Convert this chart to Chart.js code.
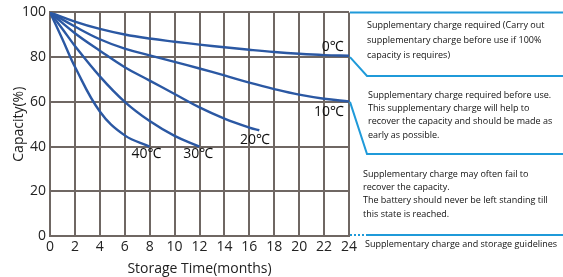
<!DOCTYPE html>
<html>
<head>
<meta charset="utf-8">
<script src="https://cdn.jsdelivr.net/npm/chart.js@4.4.1/dist/chart.umd.min.js"></script>
<style>
  html,body{margin:0;padding:0;background:#fff;}
  #wrap{width:563px;height:277px;position:relative;}
</style>
</head>
<body>
<div id="wrap"><canvas id="c" width="563" height="277"></canvas></div>
<script>
// storage curves
const months0 = [0,2,4,6,8,10,12,14,16,18,20,22,24];
const cap0  = [100,95.9,92.6,90.1,88.3,86.9,85.6,84.4,83.3,82.3,81.5,80.9,80.6];
const months10 = [0,2,4,6,8,10,12,14,16,18,20,22,24];
const cap10 = [100,93.7,88,83.8,80.8,77.9,74.9,71.8,68.6,65.7,63.2,61.4,60.2];
const months20 = [0,2,4,6,8,10,12,14,16,16.8];
const cap20 = [100,90.7,82.9,75.5,69.5,63.5,57.5,52.5,48.5,47.3];
const months30 = [0,1,2,4,6,8,10,12];
const cap30 = [100,92.6,85,71.4,60,51.4,44.8,40];
const months40 = [0,1,2,4,6,8];
const cap40 = [100,88,75.7,55.7,45,40];

const seriesLabels = ['0℃','10℃','20℃','30℃','40℃'];
// where each temperature label sits (data coords)
const labelX = [22.7,22.4,16.45,11.9,7.75];
const labelY = [84.5,55.4,42.9,36.6,36.6];

const xTicks = [0,2,4,6,8,10,12,14,16,18,20,22,24];
const yTicks = [0,20,40,60,80,100];

const notes = [
  ['Supplementary charge required (Carry out','supplementary charge before use if 100%','capacity is requires)'],
  ['Supplementary charge required before use.','This supplementary charge will help to','recover the capacity and should be made as','early as possible.'],
  ['Supplementary charge may often fail to','recover the capacity.','The battery should never be left standing till','this state is reached.'],
  ['Supplementary charge and storage guidelines']
];

const FONT = "'Open Sans', 'Noto Sans', sans-serif";
const LINE = '#2b58a3';
const GRID = '#6f6763';
const NOTE_BLUE = '#1f9ad9';

function pts(xs, ys){ return xs.map((x,i)=>({x:x, y:ys[i]})); }
const allSeries = [[months0,cap0],[months10,cap10],[months20,cap20],[months30,cap30],[months40,cap40]];

const datasets = allSeries.map((s,i)=>({
  label: seriesLabels[i],
  data: pts(s[0], s[1]),
  borderColor: LINE,
  borderWidth: 2.4,
  pointRadius: 0,
  fill: false,
  tension: 0.4
}));

const annotate = {
  id: 'annotate',
  afterDatasetsDraw(chart){
    const ctx = chart.ctx, xs = chart.scales.x, ys = chart.scales.y;
    // temperature labels
    ctx.save();
    ctx.fillStyle = '#111';
    ctx.font = '14px ' + FONT;
    ctx.textAlign = 'center'; ctx.textBaseline = 'middle';
    seriesLabels.forEach((t,i)=>ctx.fillText(t, xs.getPixelForValue(labelX[i]), ys.getPixelForValue(labelY[i])));
    ctx.restore();

    // guideline bands on the right
    const x0 = xs.getPixelForValue(24) + 1;
    const x1 = x0 + 17;
    const W = chart.width;
    const y100 = ys.getPixelForValue(100), y80 = ys.getPixelForValue(80), y60 = ys.getPixelForValue(60), y0 = ys.getPixelForValue(0);
    ctx.save();
    ctx.strokeStyle = NOTE_BLUE; ctx.lineWidth = 2;
    ctx.beginPath(); ctx.moveTo(x0, y100); ctx.lineTo(W, y100); ctx.stroke();
    ctx.beginPath(); ctx.moveTo(x0, y80); ctx.lineTo(x1, 76); ctx.lineTo(W, 76); ctx.stroke();
    ctx.beginPath(); ctx.moveTo(x0, y60); ctx.lineTo(x1, 154); ctx.lineTo(W, 154); ctx.stroke();
    ctx.beginPath(); ctx.moveTo(x1, y0 - 1); ctx.lineTo(W, y0 - 1); ctx.stroke();
    ctx.setLineDash([2,2]);
    ctx.beginPath(); ctx.moveTo(x0, y0 - 1); ctx.lineTo(x1, y0 - 1); ctx.stroke();
    ctx.restore();

    ctx.save();
    ctx.fillStyle = '#111';
    ctx.font = '9px ' + FONT;
    ctx.textAlign = 'left'; ctx.textBaseline = 'middle';
    const blocks = [{x:367,y:25,lh:15.3},{x:368,y:95,lh:13.4},{x:363,y:174,lh:13.4},{x:365,y:244,lh:13}];
    notes.forEach((lines,b)=>lines.forEach((l,j)=>ctx.fillText(l, blocks[b].x, blocks[b].y + j*blocks[b].lh)));
    ctx.restore();
  }
};

new Chart(document.getElementById('c'), {
  type: 'line',
  data: { datasets: datasets },
  options: {
    responsive: false,
    animation: false,
    layout: { padding: { top: 4, right: 214, left: 0, bottom: 0 } },
    plugins: { legend: { display: false }, tooltip: { enabled: false } },
    scales: {
      x: {
        type: 'linear', min: 0, max: 24,
        afterBuildTicks: s => { s.ticks = xTicks.map(v=>({value:v})); },
        afterFit: s => { s.height = 41; },
        grid: { color: GRID, lineWidth: 2, drawTicks: false },
        border: { color: GRID, width: 2 },
        ticks: { color: '#222', font: { family: FONT, size: 14 }, padding: 3, maxRotation: 0 },
        title: { display: true, text: 'Storage Time(months)', color: '#222', font: { family: FONT, size: 14 }, padding: { top: 0, bottom: 0 } }
      },
      y: {
        min: 0, max: 100,
        afterBuildTicks: s => { s.ticks = yTicks.map(v=>({value:v})); },
        afterFit: s => { s.width = 50; },
        grid: { color: GRID, lineWidth: 2, drawTicks: false },
        border: { color: GRID, width: 2 },
        ticks: { color: '#222', font: { family: FONT, size: 14 }, padding: 4 },
        title: { display: true, text: 'Capacity(%)', color: '#222', font: { family: FONT, size: 14 }, padding: { top: 11, bottom: 0 } }
      }
    }
  },
  plugins: [annotate]
});
</script>
</body>
</html>
